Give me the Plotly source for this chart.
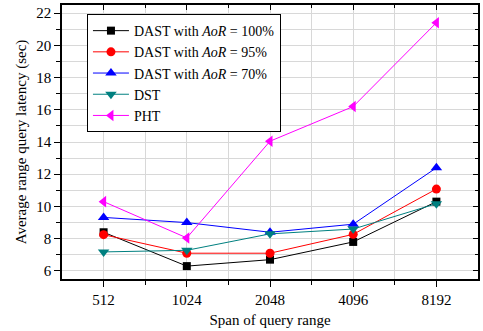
import plotly.graph_objects as go

spans = ["512", "1024", "2048", "4096", "8192"]
dast100 = [8.4, 6.3, 6.7, 7.8, 10.3]
dast95 = [8.25, 7.1, 7.1, 8.27, 11.08]
dast70 = [9.32, 9.0, 8.4, 8.9, 12.4]
dst = [7.18, 7.28, 8.3, 8.6, 10.17]
pht = [10.3, 8.05, 14.05, 16.2, 21.4]

names = ["DAST with <i>AoR</i> = 100%", "DAST with <i>AoR</i> = 95%",
         "DAST with <i>AoR</i> = 70%", "DST", "PHT"]
series = [dast100, dast95, dast70, dst, pht]
colors = ["#000000", "#ff0000", "#0000ff", "#008080", "#ff00ff"]
symbols = ["square", "circle", "triangle-up", "triangle-down", "triangle-left"]
msizes = [8, 9, 10, 10, 10]

xs = list(range(len(spans)))
font = "Liberation Serif, Times New Roman, serif"

fig = go.Figure()
for n, s, c, sym, ms in zip(names, series, colors, symbols, msizes):
    fig.add_trace(go.Scatter(x=xs, y=s, name=n, mode="lines+markers",
                             line=dict(color=c, width=1),
                             marker=dict(symbol=sym, size=ms, color=c)))

grid = "#d8d8d8"
fig.update_layout(
    width=483, height=331,
    margin=dict(l=62, r=5, t=5, b=52),
    paper_bgcolor="white", plot_bgcolor="white",
    font=dict(family=font, size=15, color="black"),
    showlegend=True,
    legend=dict(x=0.06, y=0.967, xanchor="left", yanchor="top",
                bgcolor="white", bordercolor="black", borderwidth=1,
                font=dict(family=font, size=14), tracegroupgap=0,
                itemwidth=36),
    xaxis=dict(range=[-0.5, 4.5], tickmode="array", tickvals=xs, ticktext=spans,
               showline=True, linecolor="black", linewidth=1.5,
               ticks="outside", ticklen=6, tickcolor="black",
               showgrid=True, gridcolor=grid, gridwidth=1, zeroline=False,
               minor=dict(tickvals=[0.5, 1.5, 2.5, 3.5], ticks="outside", ticklen=4,
                          tickcolor="black", showgrid=True, gridcolor=grid),
               title=dict(text="Span of query range", standoff=8,
                          font=dict(family=font, size=15))),
    yaxis=dict(range=[5.5, 22.5], tickmode="linear", tick0=6, dtick=2,
               showline=True, linecolor="black", linewidth=1.5,
               ticks="outside", ticklen=6, tickcolor="black",
               showgrid=True, gridcolor=grid, gridwidth=1, zeroline=False,
               minor=dict(dtick=1, tick0=5, ticks="outside", ticklen=4,
                          tickcolor="black", showgrid=True, gridcolor=grid),
               title=dict(text="Average range query latency (sec)", standoff=6,
                          font=dict(family=font, size=15))),
    xaxis2=dict(overlaying="x", side="top", range=[-0.5, 4.5], tickmode="array",
                tickvals=xs, showticklabels=False, showline=True, linecolor="black",
                linewidth=1.5, ticks="inside", ticklen=5, tickcolor="black",
                showgrid=False, zeroline=False,
                minor=dict(tickvals=[0.5, 1.5, 2.5, 3.5], ticks="inside", ticklen=3,
                           tickcolor="black")),
    yaxis2=dict(overlaying="y", side="right", range=[5.5, 22.5], tickmode="linear",
                tick0=6, dtick=2, showticklabels=False, showline=True,
                linecolor="black", linewidth=1.5, ticks="inside", ticklen=5,
                tickcolor="black", showgrid=False, zeroline=False,
                minor=dict(dtick=1, tick0=5, ticks="inside", ticklen=3,
                           tickcolor="black")),
)
fig.add_trace(go.Scatter(x=[None], y=[None], xaxis="x2", yaxis="y2",
                         showlegend=False, hoverinfo="skip"))
fig.write_html("out.html")
